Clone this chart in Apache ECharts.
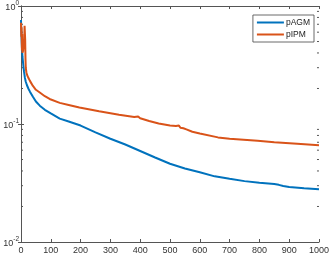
<!DOCTYPE html>
<html>
<head>
<meta charset="utf-8">
<script src="https://cdn.jsdelivr.net/npm/echarts@6/dist/echarts.min.js"></script>
<style>html,body{margin:0;padding:0;background:#fff;}#c{width:332px;height:257px;}</style>
</head>
<body>
<div id="c"></div>
<script>
const xTicks = [0,100,200,300,400,500,600,700,800,900,1000];
const yTicks = [0.01, 0.1, 1];
const minorTicks = [0.02,0.03,0.04,0.05,0.06,0.07,0.08,0.09,0.2,0.3,0.4,0.5,0.6,0.7,0.8,0.9];

const agmIter = [0,1,2,3,5,8,10,13,16,20,25,30,40,50,63,80,100,130,160,200,250,300,350,400,450,500,550,600,650,700,750,800,850,865,880,900,950,1000];
const agmVal  = [0.76,0.62,0.52,0.45,0.37,0.31,0.28,0.247,0.228,0.213,0.199,0.188,0.170,0.155,0.143,0.132,0.123,0.111,0.105,0.097,0.085,0.075,0.067,0.059,0.052,0.046,0.042,0.039,0.036,0.0343,0.0328,0.0318,0.031,0.0305,0.0298,0.0292,0.0285,0.028];

const ipmIter = [0,1,2,3,4,5,6,7,8,9,10,11,12,13,14,15,16,18,20,25,30,40,50,63,80,96,130,160,196,262,329,380,393,396,400,430,462,500,520,523,526,530,535,540,545,550,555,560,575,600,661,700,794,850,927,1000];
const ipmVal  = [0.72,0.55,0.66,0.42,0.58,0.40,0.52,0.41,0.47,0.43,0.46,0.50,0.68,0.67,0.52,0.36,0.30,0.275,0.262,0.245,0.232,0.21,0.195,0.185,0.172,0.163,0.151,0.145,0.138,0.128,0.12,0.1145,0.116,0.1125,0.112,0.106,0.101,0.097,0.096,0.099,0.095,0.097,0.093,0.095,0.092,0.093,0.09,0.089,0.086,0.083,0.077,0.075,0.072,0.070,0.068,0.066];

const seriesNames = ['pAGM','pIPM'];

const chart = echarts.init(document.getElementById('c'), null, {renderer:'canvas'});
const axisCol = '#555';

function pairs(xs, ys){ return xs.map((x,i)=>[x, ys[i]]); }

chart.setOption({
  animation:false,
  backgroundColor:'#fff',
  grid:{left:21, right:10, top:5, bottom:15, containLabel:false},
  legend:{
    data:seriesNames, orient:'vertical', right:18, top:15,
    backgroundColor:'#fff', borderColor:'#444', borderWidth:0.8, borderRadius:0,
    padding:[3,4,3,4], itemGap:3, itemWidth:27, itemHeight:2,
    icon:'rect', textStyle:{fontSize:8.5, color:'#222', fontFamily:'Liberation Sans, Arial', padding:[0,0,0,-3]}
  },
  xAxis:[{
    type:'value', min:0, max:1000, interval:100,
    axisLine:{lineStyle:{color:axisCol, width:1}},
    axisTick:{inside:true, length:3, lineStyle:{color:axisCol}},
    axisLabel:{fontSize:9, color:'#333', margin:4, fontFamily:'Liberation Sans, Arial', formatter:function(v){return String(v);}},
    splitLine:{show:false}
  },{
    type:'value', min:0, max:1000, interval:100, position:'top',
    axisLine:{lineStyle:{color:axisCol, width:1}},
    axisTick:{inside:true, length:3, lineStyle:{color:axisCol}},
    axisLabel:{show:false}, splitLine:{show:false}
  }],
  yAxis:[{
    type:'log', logBase:10, min:0.01, max:1,
    axisLine:{show:true, lineStyle:{color:axisCol, width:1}},
    axisTick:{show:true, inside:true, length:3, lineStyle:{color:axisCol}},
    splitLine:{show:false},
    axisLabel:{
      margin:2, fontFamily:'Liberation Sans, Arial', color:'#333',
      formatter:function(v){ const k = Math.round(Math.log10(v)); const s = k===0?'0':String(k); return '{a|10}{b|'+s+'}'; },
      rich:{a:{fontSize:9, color:'#333', verticalAlign:'bottom', lineHeight:12}, b:{fontSize:6.5, color:'#333', verticalAlign:'top', lineHeight:12}}
    }
  },{
    type:'log', logBase:10, min:0.01, max:1, position:'right',
    axisLine:{show:true, lineStyle:{color:axisCol, width:1}},
    axisTick:{show:true, inside:true, length:3, lineStyle:{color:axisCol}},
    axisLabel:{show:false}, splitLine:{show:false}
  }],
  series:[
    {name:'pAGM', type:'line', data:pairs(agmIter, agmVal), showSymbol:false, symbol:'none',
     lineStyle:{color:'#0072BD', width:2}, itemStyle:{color:'#0072BD'}, z:3},
    {name:'pIPM', type:'line', data:pairs(ipmIter, ipmVal), showSymbol:false, symbol:'none',
     lineStyle:{color:'#D95319', width:2}, itemStyle:{color:'#D95319'}, z:4},
    {name:'minor', type:'custom', data:minorTicks.map(v=>[0,v]), silent:true, z:1, clip:false,
     renderItem:function(params, api){
       const v = api.value(1);
       const pl = api.coord([0, v]);
       const pr = api.coord([1000, v]);
       return {type:'group', children:[
         {type:'line', shape:{x1:pl[0], y1:pl[1], x2:pl[0]+2, y2:pl[1]}, style:{stroke:axisCol, lineWidth:1}},
         {type:'line', shape:{x1:pr[0], y1:pr[1], x2:pr[0]-2, y2:pr[1]}, style:{stroke:axisCol, lineWidth:1}}
       ]};
     }}
  ]
});
</script>
</body>
</html>
